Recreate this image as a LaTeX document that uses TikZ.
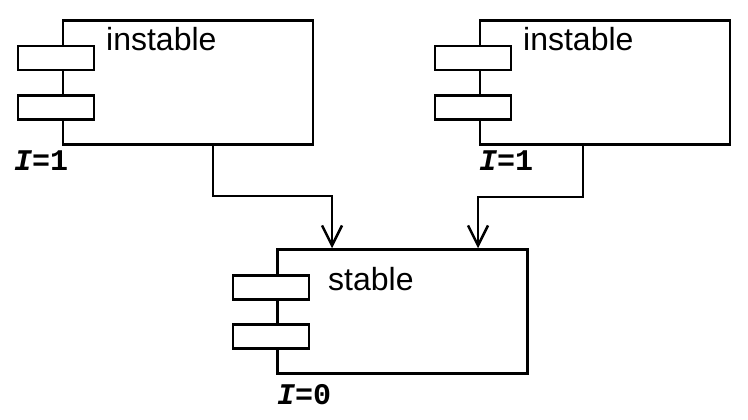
\documentclass[tikz,border=0pt]{standalone}
\usepackage{fontspec}
\setmainfont{Liberation Sans}
\newfontfamily\monob{Liberation Mono}
\usetikzlibrary{arrows.meta}
\begin{document}
\begin{tikzpicture}[x=1pt,y=-1pt,
  lw/.style={line width=2.5pt},
  comp/.style={lw,draw,rectangle,minimum width=250pt,minimum height=124pt,inner sep=0pt},
  tab/.style={lw,draw,fill=white,rectangle,minimum width=76pt,minimum height=24pt,inner sep=0pt},
  lbl/.style={anchor=base west,inner sep=0pt,font=\fontsize{32}{36}\selectfont},
  ilbl/.style={anchor=base west,inner sep=0pt,font=\monob\bfseries\fontsize{30}{34}\selectfont},
  conn/.style={lw,-{Straight Barb[length=20pt,width=20pt,line width=2.5pt]}}]
\useasboundingbox (0,0) rectangle (748,420);
% box 1
\node[comp] (b1) at (188,82.5) {};
\node[tab] (t1a) at (56,58) {};
\node[tab] (t1b) at (56,107.5) {};
\node[lbl] (n1) at (106,51) {instable};
\node[ilbl] (i1) at (14,171) {\textit{I}=1};
% box 2
\node[comp] (b2) at (605,82.5) {};
\node[tab] (t2a) at (473,58) {};
\node[tab] (t2b) at (473,107.5) {};
\node[lbl] (n2) at (523,51) {instable};
\node[ilbl] (i2) at (479,171) {\textit{I}=1};
% box 3
\node[comp] (b3) at (402.5,311.5) {};
\node[tab] (t3a) at (271,287.5) {};
\node[tab] (t3b) at (271,336.5) {};
\node[lbl] (n3) at (328,290) {stable};
\node[ilbl] (i3) at (277,404) {\textit{I}=0};
% connectors
\coordinate (e1) at (213,196);
\coordinate (e2) at (583,197);
\draw[conn] (e1 |- b1.south) -- (e1) -| ([xshift=-70.5pt]b3.north);
\draw[conn] (e2 |- b2.south) -- (e2) -| ([xshift=75.5pt]b3.north);
\end{tikzpicture}
\end{document}
